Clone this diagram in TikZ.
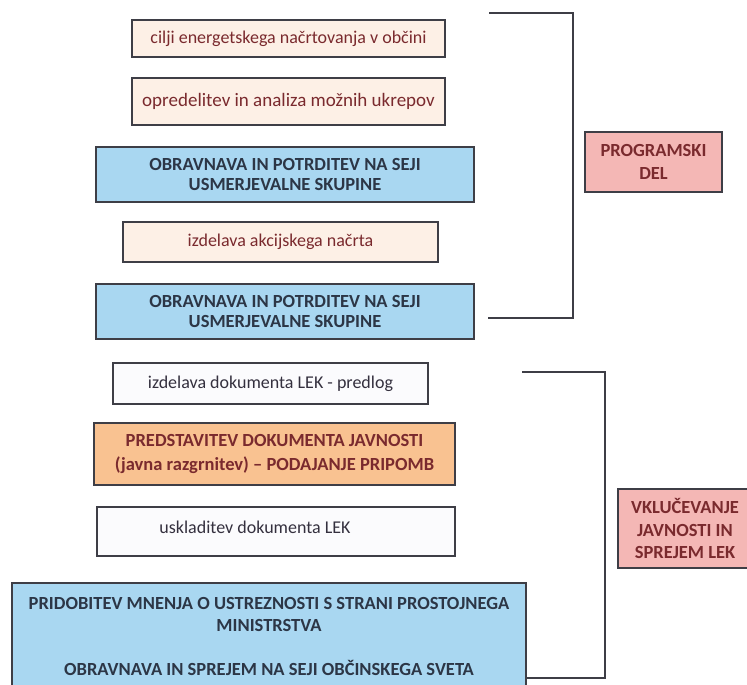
\documentclass[tikz,border=0pt]{standalone}
\usepackage{fontspec}
\setmainfont{Carlito}
\definecolor{bordc}{HTML}{3E3E46}
\definecolor{peachf}{HTML}{FDF0E6}
\definecolor{bluef}{HTML}{A9D7F1}
\definecolor{orangef}{HTML}{F9C291}
\definecolor{whitef}{HTML}{FBFBFD}
\definecolor{pinkf}{HTML}{F4B7B5}
\definecolor{redtxt}{HTML}{7A2A2E}
\definecolor{bluetxt}{HTML}{2C3646}
\definecolor{darktxt}{HTML}{34303E}
\tikzset{
  box/.style={draw=bordc, line width=1.2pt, inner sep=0pt, align=center, font=\fontsize{18}{20}\selectfont},
  peachbox/.style={box, fill=peachf, text=redtxt},
  bluebox/.style={box, fill=bluef, text=bluetxt, font=\fontsize{18.5}{20}\selectfont\bfseries},
  orangebox/.style={box, fill=orangef, text=redtxt, font=\fontsize{18.5}{24}\selectfont\bfseries},
  whitebox/.style={box, fill=whitef, text=darktxt},
  pinkbox/.style={box, fill=pinkf, text=redtxt, font=\fontsize{18.5}{22.5}\selectfont\bfseries},
  bracket/.style={draw=bordc, line width=1.4pt},
  plain/.style={inner sep=0pt, align=center}
}
\begin{document}
\begin{tikzpicture}[x=1pt,y=-1pt]
\useasboundingbox (0,0) rectangle (747,685);
\clip (0,0) rectangle (747,685);
% programski del
\node[peachbox, minimum width=313pt, minimum height=37pt] (b1) at (288.5,38.5) {cilji energetskega načrtovanja v občini};
\node[peachbox, minimum width=313pt, minimum height=47pt, font=\fontsize{19}{20}\selectfont] (b2) at (288.5,101.5) {opredelitev in analiza možnih ukrepov};
\node[bluebox, minimum width=378pt, minimum height=55pt] (b3) at (285,174.5) {OBRAVNAVA IN POTRDITEV NA SEJI\\USMERJEVALNE SKUPINE};
\node[peachbox, minimum width=315pt, minimum height=40pt] (b4) at (280.5,242) {izdelava akcijskega načrta};
\node[bluebox, minimum width=378pt, minimum height=55pt] (b5) at (285,311.5) {OBRAVNAVA IN POTRDITEV NA SEJI\\USMERJEVALNE SKUPINE};
% vkljucevanje
\node[whitebox, minimum width=315pt, minimum height=41pt] (b6) at (270.5,383.5) {izdelava dokumenta LEK - predlog};
\node[orangebox, minimum width=361pt, minimum height=62pt] (b7) at (274.5,454) {PREDSTAVITEV DOKUMENTA JAVNOSTI\\(javna razgrnitev) – PODAJANJE PRIPOMB};
\node[whitebox, minimum width=358pt, minimum height=49pt] (b8) at (276,531.5) {};
\node[plain, text=darktxt, font=\fontsize{18}{20}\selectfont] (b8t) at (255,527) {uskladitev dokumenta LEK};
\node[bluebox, minimum width=514pt, minimum height=106pt, font=\fontsize{18.5}{22}\selectfont\bfseries] (b9) at (269,636) {PRIDOBITEV MNENJA O USTREZNOSTI S STRANI PROSTOJNEGA\\MINISTRSTVA\\[22pt]OBRAVNAVA IN SPREJEM NA SEJI OBČINSKEGA SVETA};
% labels
\node[pinkbox, minimum width=137pt, minimum height=60pt] (p1) at (653.5,162) {PROGRAMSKI\\DEL};
\node[pinkbox, minimum width=134pt, minimum height=79pt] (p2) at (685,528.5) {VKLUČEVANJE\\JAVNOSTI IN\\SPREJEM LEK};
% brackets
\coordinate (k1a) at (489,13);
\coordinate (k1c) at (573,13);
\coordinate (k1b) at (488,318);
\draw[bracket] (k1a) -- (k1c) |- (k1b);
\coordinate (k2a) at (522,372);
\coordinate (k2c) at (605,372);
\coordinate (k2b) at (b9.east |- 0,678);
\draw[bracket] (k2a) -- (k2c) |- (k2b);
\end{tikzpicture}
\end{document}
